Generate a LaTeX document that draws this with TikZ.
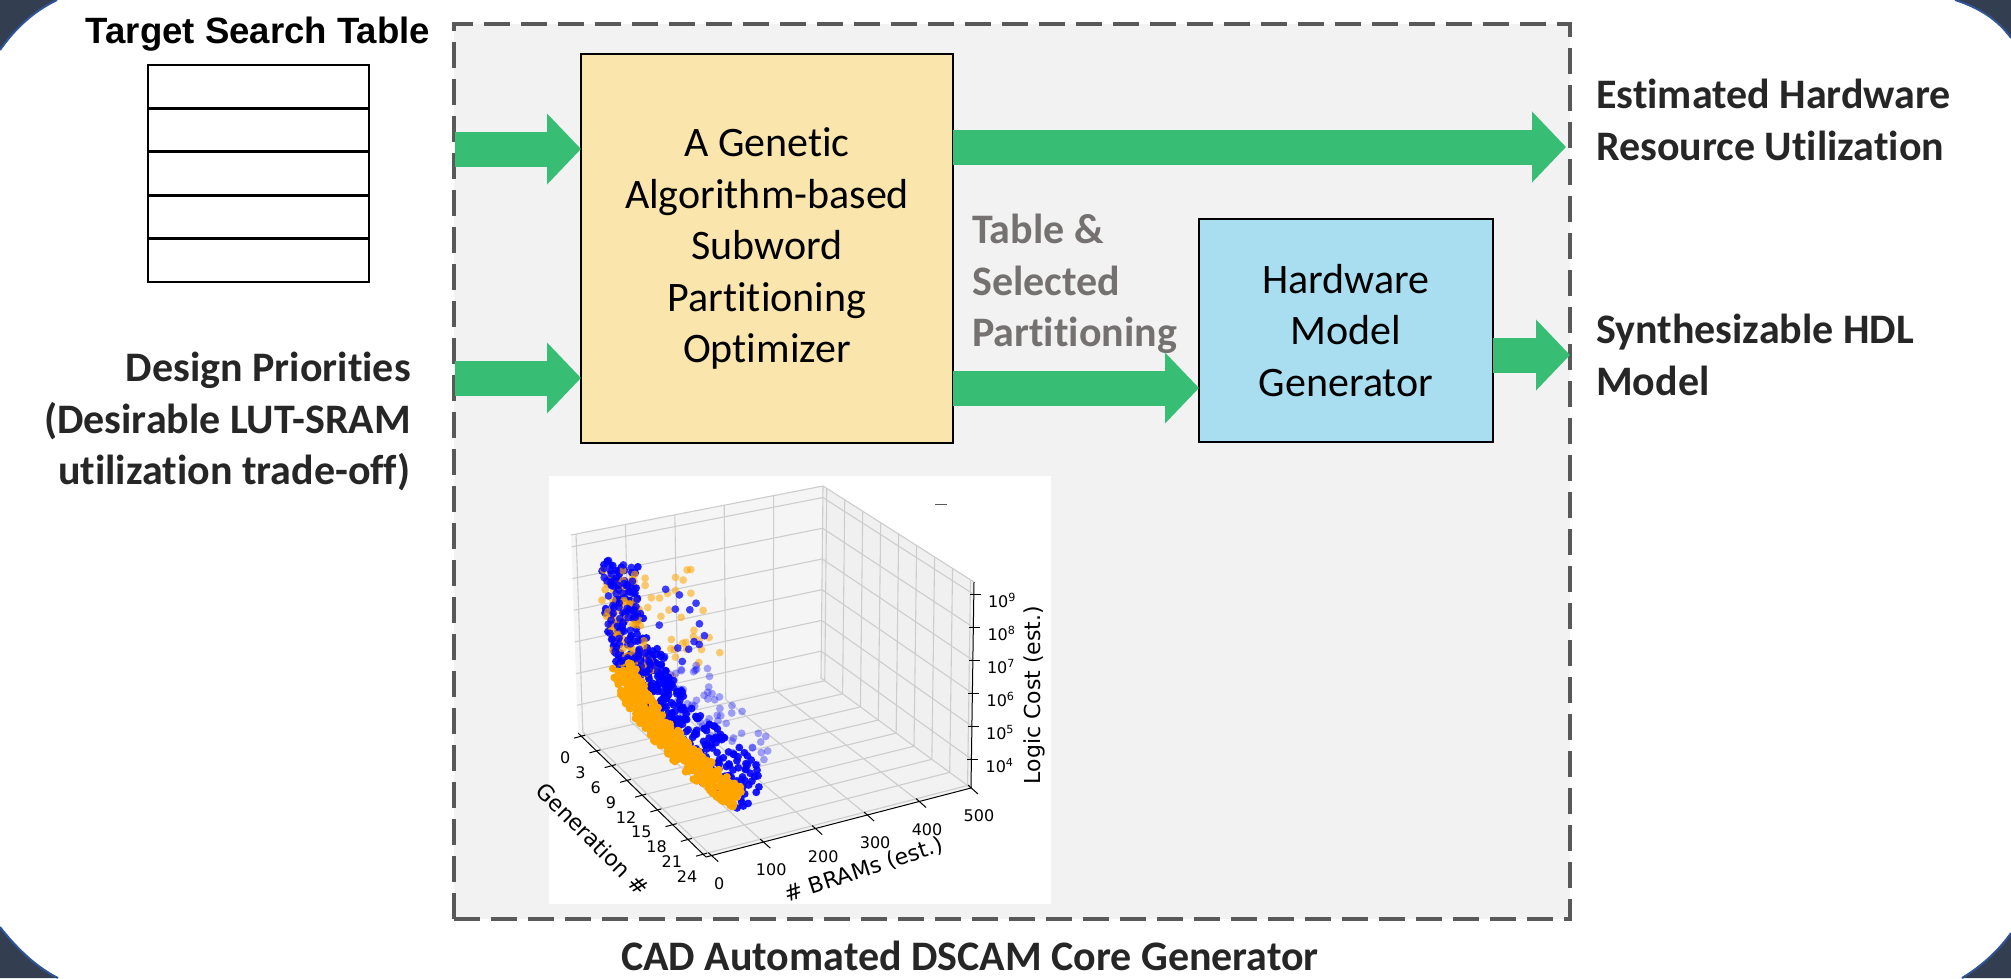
\documentclass[tikz,border=0pt]{standalone}
\usepackage{fontspec}
\setmainfont{Carlito}[Ligatures=NoCommon]
\newfontfamily\headfont{Liberation Sans}
\newfontfamily\plotfont{DejaVu Sans}
\usepackage{xcolor}
\usetikzlibrary{arrows.meta, positioning, calc}

\definecolor{flowgreen}{RGB}{55,190,116}
\definecolor{gayellow}{RGB}{250,229,172}
\definecolor{hwblue}{RGB}{169,222,240}
\definecolor{coregray}{RGB}{242,242,242}
\definecolor{dashgray}{RGB}{89,89,89}
\definecolor{textdark}{RGB}{38,38,38}
\definecolor{notegray}{RGB}{118,113,113}
\definecolor{slidenavy}{RGB}{51,63,80}
\definecolor{slideedge}{RGB}{47,85,151}
\definecolor{mplblue}{RGB}{0,0,255}
\definecolor{mplorange}{RGB}{255,165,0}
\definecolor{gridgray}{RGB}{205,205,205}

% point on the spine of the point cloud (a cubic), plus its unit normal
\newcommand{\spinept}[1]{%
  \pgfmathsetmacro\spx{(1-#1)^3*606+3*(1-#1)^2*#1*610+3*(1-#1)*#1^2*640+#1^3*738}%
  \pgfmathsetmacro\spy{(1-#1)^3*560+3*(1-#1)^2*#1*680+3*(1-#1)*#1^2*720+#1^3*798}%
  \pgfmathsetmacro\tgx{0.12*(1-#1)^2+1.8*(1-#1)*#1+2.94*#1^2}%
  \pgfmathsetmacro\tgy{3.6*(1-#1)^2+2.4*(1-#1)*#1+2.34*#1^2}%
  \pgfmathsetmacro\tglen{veclen(\tgx,\tgy)}%
  \pgfmathsetmacro\nmx{\tgy/\tglen}%
  \pgfmathsetmacro\nmy{-\tgx/\tglen}%
}
% #1 points, colour #2, opacity #3, spine parameter in [#4,#4+#5], normal offset in [#6,#6+#7]
\newcommand{\cloud}[7]{%
  \foreach \i in {1,...,#1}{%
    \pgfmathsetmacro\spar{#4+#5*rnd}%
    \spinept{\spar}%
    \pgfmathsetmacro\offn{#6+#7*rnd}%
    \pgfmathsetmacro\offa{5*rand}%
    \pgfmathsetmacro\ptx{\spx+\offn*(\nmx)+\offa*(\tgx)/\tglen}%
    \pgfmathsetmacro\pty{\spy+\offn*(\nmy)+\offa*(\tgy)/\tglen}%
    \fill[#2, fill opacity=#3] (\ptx,\pty) circle[radius=3.9];
  }%
}

\begin{document}
\begin{tikzpicture}[
    x=1pt, y=-1pt,
    flow/.style={-{Triangle[length=34pt, width=69pt]}, line width=35pt, draw=flowgreen},
    procbox/.style={rectangle, draw=black, line width=2.8pt, inner sep=0pt, outer sep=0pt, align=center, font=\fontsize{42}{51.5}\selectfont},
    sidelabel/.style={inner sep=0pt, text=textdark, font=\fontsize{42}{51.5}\selectfont\bfseries},
    corebox/.style={rectangle, draw=dashgray, fill=coregray, line width=3.5pt, dash pattern=on 26pt off 11pt, inner sep=0pt, outer sep=0pt},
    tablerow/.style={rectangle, draw=black, line width=2.7pt, minimum width=221pt, minimum height=43.4pt, inner sep=0pt, outer sep=0pt},
    gridline/.style={draw=gridgray, line width=1.1pt},
    tickmark/.style={draw=black, line width=1pt},
    ticklabel/.style={inner sep=0pt, font=\plotfont\fontsize{16}{19}\selectfont},
    axislabel/.style={inner sep=0pt, font=\plotfont\fontsize{22}{26}\selectfont},
  ]
  \useasboundingbox (0,0) rectangle (2011,978);
  \fill[white] (0,0) rectangle (2011,978);

  % slide corners
  \fill[slidenavy] (0,0) -- (0,50) .. controls (14,30) and (32,12) .. (57,0) -- cycle;
  \fill[slidenavy] (0,978) -- (0,927) .. controls (14,945) and (34,966) .. (58,978) -- cycle;
  \fill[slidenavy] (2011,0) -- (1955,0) .. controls (1980,8) and (1998,20) .. (2011,38) -- cycle;
  \fill[slidenavy] (2011,978) -- (2011,933) .. controls (1999,950) and (1982,966) .. (1962,978) -- cycle;
  \begin{scope}[slideedge, line width=2pt]
    \draw (0,50) .. controls (14,30) and (32,12) .. (57,0);
    \draw (0,927) .. controls (14,945) and (34,966) .. (58,978);
    \draw (1955,0) .. controls (1980,8) and (1998,20) .. (2011,38);
    \draw (2011,933) .. controls (1999,950) and (1982,966) .. (1962,978);
  \end{scope}

  % Core generator frame
  \node[corebox, minimum width=1116pt, minimum height=895pt] (core) at (1012,471.5) {};
  \node[sidelabel, anchor=base] (coretitle) at (970,970) {CAD Automated DSCAM Core Generator};

  % Pareto plot (3D scatter)
  \node[fill=white, minimum width=502pt, minimum height=428pt, inner sep=0pt, outer sep=0pt] (plot) at (800,690) {};
  \coordinate (L0) at (578,733);
  \coordinate (F0) at (706,857);
  \coordinate (R0) at (971,788);
  \coordinate (B0) at (821,678);
  \coordinate (L1) at (571,535);
  \coordinate (B1) at (823,486);
  \coordinate (R1) at (974,582);
  \fill[black!4] (L0) -- (B0) -- (B1) -- (L1) -- cycle;
  \fill[black!6] (B0) -- (R0) -- (R1) -- (B1) -- cycle;
  \fill[black!5] (L0) -- (F0) -- (R0) -- (B0) -- cycle;
  \foreach \fr in {0.02,0.216,0.412,0.608,0.804,1.0}
    \draw[gridline] ($(F0)!\fr!(R0)$) -- ($(L0)!\fr!(B0)$) -- ($(L1)!\fr!(B1)$);
  \foreach \k in {0,...,8} {
    \pgfmathsetmacro\fr{0.025+0.119*\k}
    \draw[gridline] ($(L0)!\fr!(F0)$) -- ($(B0)!\fr!(R0)$) -- ($(B1)!\fr!(R1)$);
  }
  \foreach \k in {0,...,5} {
    \pgfmathsetmacro\fr{0.14+0.16*\k}
    \draw[gridline] ($(L0)!\fr!(L1)$) -- ($(B0)!\fr!(B1)$) -- ($(R0)!\fr!(R1)$);
  }
  \draw[gridline] (L1) -- (B1) -- (R1);
  \draw[tickmark] (L0) -- (F0) -- (R0) -- (R1);

  % axis ticks and labels
  \foreach \k in {0,...,8} {
    \pgfmathsetmacro\fr{0.025+0.119*\k}
    \pgfmathtruncatemacro\lab{3*\k}
    \draw[tickmark] ($(L0)!\fr!(F0)$) ++(4,-1) -- ++(-11,3);
    \node[ticklabel] at ($(L0)!\fr!(F0)+(-16,22)$) {\lab};
  }
  \foreach \k in {0,...,5} {
    \pgfmathsetmacro\fr{0.02+0.196*\k}
    \pgfmathtruncatemacro\lab{100*\k}
    \draw[tickmark] ($(F0)!\fr!(R0)$) ++(-3,-3) -- ++(10,9);
    \node[ticklabel] at ($(F0)!\fr!(R0)+(8,28)$) {\lab};
  }
  \foreach \k in {0,...,5} {
    \pgfmathsetmacro\fr{0.14+0.16*\k}
    \pgfmathtruncatemacro\expo{\k+4}
    \draw[tickmark] ($(R0)!\fr!(R1)$) ++(-4,0) -- ++(11,0);
    \node[ticklabel, anchor=west] at ($(R0)!\fr!(R1)+(14,6)$) {10\textsuperscript{\expo}};
  }
  \node[axislabel, rotate=-45] (genlabel) at (593,839) {Generation \#};
  \node[axislabel, rotate=18] (bramlabel) at (864,870) {\# BRAMs (est.)};
  \node[axislabel, rotate=90] (costlabel) at (1034,695) {Logic Cost (est.)};
  \draw[dashgray, line width=1pt] (935,504) -- (947,504);

  % the point cloud: sparse outliers first, dense band last
  \pgfmathsetseed{11}
  \cloud{45}{mplorange}{0.55}{0.05}{0.5}{10}{85}
  \cloud{15}{mplblue}{0.75}{0.1}{0.4}{30}{70}
  \cloud{55}{mplblue}{0.35}{0.5}{0.5}{25}{55}
  \cloud{260}{mplblue}{0.9}{0.35}{0.65}{0}{40}
  \cloud{40}{mplblue}{0.9}{0.88}{0.15}{-12}{34}
  \cloud{110}{mplblue}{0.9}{0}{0.45}{-6}{38}
  \cloud{80}{mplorange}{0.65}{0}{0.45}{-8}{38}
  \cloud{100}{mplblue}{0.8}{0}{0.45}{-4}{34}
  \cloud{450}{mplorange}{1}{0.38}{0.62}{-14}{25}

  % Processing blocks
  \node[procbox, fill=gayellow, minimum width=372pt, minimum height=389pt] (ga) at (767,248.5)
    {A Genetic\\Algorithm-based\\Subword\\Partitioning\\Optimizer};
  \node[procbox, fill=hwblue, minimum width=294pt, minimum height=223pt] (hw) at (1346,330.5)
    {Hardware\\Model\\Generator};

  % Inputs
  \node[font=\headfont\bfseries\fontsize{36.6}{44}\selectfont, inner sep=0pt, anchor=base] (tablehead) at (258,43) {Target Search Table};
  \foreach \r in {1,...,5}
    \node[tablerow] (row\r) at (258.5,{65+43.4*(\r-0.5)}) {};
  \node[sidelabel, align=right, anchor=north east] (prio) at (411,352)
    {Design Priorities\\(Desirable LUT-SRAM\\utilization trade-off)};

  % Outputs
  \node[sidelabel, align=left, anchor=north west] (usage) at (1596,79)
    {Estimated Hardware\\Resource Utilization};
  \node[sidelabel, align=left, anchor=north west] (hdl) at (1596,314)
    {Synthesizable HDL\\Model};
  \node[sidelabel, text=notegray, align=left, anchor=north west] (selnote) at (972,214)
    {Table \&\\Selected\\Partitioning};

  % Arrows
  \coordinate (tblin) at (455,149);
  \coordinate (prioin) at (455,378);
  \coordinate (selrow) at (0,388);
  \coordinate (usageout) at (1566,147);
  \coordinate (hdlout) at (1570,355);
  \draw[flow] (tblin) -- (tblin -| ga.west);
  \draw[flow] (prioin) -- (prioin -| ga.west);
  \draw[flow] (ga.east |- usageout) -- (usageout);
  \draw[flow] (ga.east |- selrow) -- (hw.west |- selrow);
  \draw[flow] (hw.east |- hdlout) -- (hdlout);
\end{tikzpicture}
\end{document}
